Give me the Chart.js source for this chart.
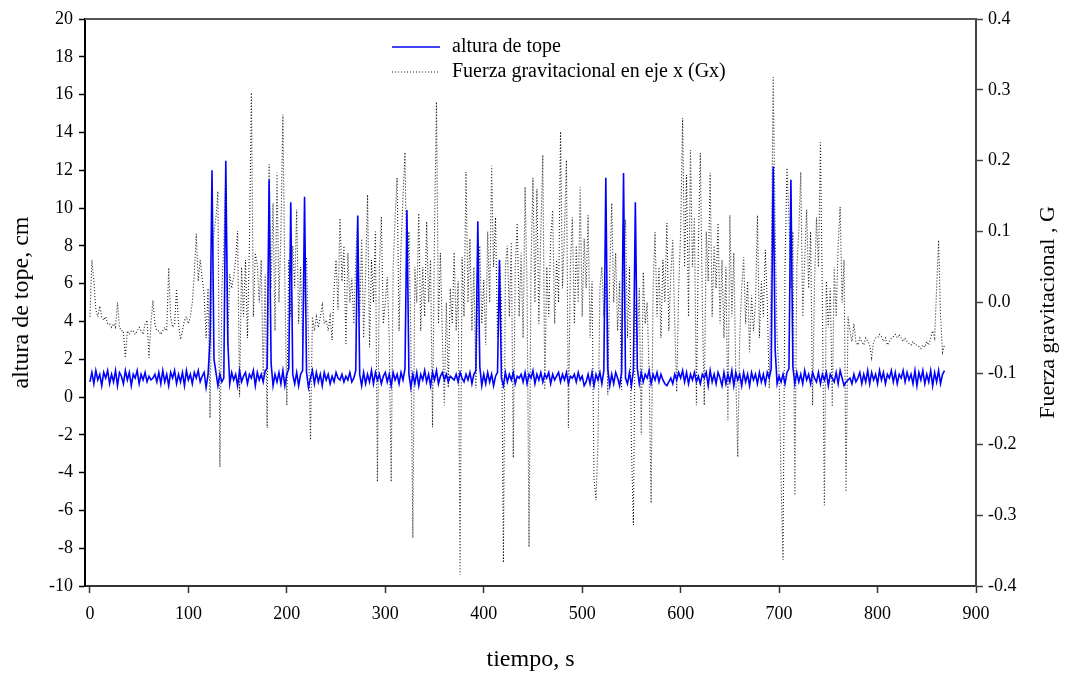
<!DOCTYPE html>
<html lang="es">
<head>
<meta charset="UTF-8">
<title>altura de tope y fuerza gravitacional</title>
<script src="https://cdn.jsdelivr.net/npm/chart.js"></script>
<style>
  html, body { margin: 0; padding: 0; background: #fff; }
  #wrap { width: 1067px; height: 673px; }
</style>
</head>
<body>
<div id="wrap"><canvas id="grafico"></canvas></div>
<script>
// una muestra cada 2 s, de 0 a 868 s
const paso = 2;

// altura de tope, cm
const alturaTope = [
  0.8, 1.3, 0.7, 1.4, 0.9, 1.2, 0.6, 1.3, 1.0, 1.4,
  0.7, 1.2, 0.8, 1.4, 0.6, 1.3, 1.1, 0.7, 1.4, 0.9,
  1.3, 0.6, 1.2, 1.0, 1.4, 0.7, 1.2, 0.9, 1.3, 0.8,
  1.1, 0.9, 1.0, 1.2, 0.8, 1.3, 0.7, 1.4, 0.8, 1.2,
  0.6, 1.3, 1.0, 1.4, 0.7, 1.2, 0.8, 1.3, 0.6, 1.4,
  0.9, 1.2, 0.7, 1.3, 1.0, 1.4, 0.8, 1.1, 1.3, 0.5,
  1.2, 3.0, 12.0, 2.0, 1.3, 0.6, 1.2, 0.8, 1.0, 12.5,
  3.0, 0.7, 1.3, 0.9, 1.2, 0.6, 1.4, 0.8, 1.1, 1.3,
  0.7, 1.2, 1.0, 1.4, 0.6, 1.3, 0.9, 1.2, 0.8, 1.4,
  1.5, 11.5, 1.8, 0.6, 1.2, 0.8, 1.3, 0.7, 1.4, 0.6,
  1.2, 1.5, 10.3, 1.2, 0.7, 1.3, 0.6, 1.2, 1.4, 10.6,
  1.3, 0.5, 1.0, 1.4, 0.7, 1.3, 0.8, 1.2, 0.6, 1.3,
  0.9, 1.2, 0.7, 1.1, 0.8, 1.3, 1.0, 0.9, 1.2, 0.8,
  1.1, 0.9, 1.3, 0.8, 1.0, 1.4, 9.6, 1.2, 0.6, 1.3,
  0.7, 1.2, 0.8, 1.4, 0.7, 1.3, 0.9, 1.2, 0.7, 1.1,
  1.3, 0.8, 1.2, 0.6, 1.3, 0.9, 1.2, 0.7, 1.3, 0.9,
  1.5, 9.9, 1.2, 0.5, 1.2, 0.7, 1.3, 0.6, 1.2, 0.9,
  1.4, 0.8, 1.2, 0.6, 1.3, 0.9, 1.4, 0.7, 1.1, 1.3,
  0.9, 1.2, 0.8, 1.1, 1.0, 0.9, 1.2, 0.8, 1.3, 1.0,
  0.8, 1.2, 0.9, 1.3, 0.7, 1.2, 1.4, 9.3, 1.6, 0.6,
  1.2, 0.7, 1.3, 0.8, 1.2, 0.6, 1.1, 1.3, 7.25, 1.0,
  0.6, 1.3, 0.8, 1.2, 0.9, 1.3, 0.7, 1.1, 1.0, 1.2,
  0.8, 1.3, 0.7, 1.2, 1.0, 1.4, 0.7, 1.2, 0.9, 1.3,
  0.8, 1.2, 1.0, 1.3, 0.7, 1.2, 0.9, 1.1, 1.3, 0.8,
  1.2, 0.9, 1.3, 0.7, 1.1, 1.0, 1.2, 0.8, 1.3, 0.9,
  1.1, 0.6, 0.8, 1.2, 0.7, 1.3, 0.6, 1.2, 0.9, 1.3,
  0.7, 1.4, 11.6, 1.5, 0.6, 1.2, 0.7, 1.3, 1.0, 0.6,
  1.3, 11.85, 1.0, 0.7, 1.3, 0.6, 1.4, 10.3, 1.5, 0.7,
  1.3, 0.8, 1.2, 1.0, 1.4, 0.7, 1.2, 0.9, 1.3, 0.8,
  1.2, 0.9, 0.7, 0.6, 0.8, 1.0, 0.7, 1.2, 0.9, 1.3,
  1.0, 1.4, 0.8, 1.3, 0.7, 1.2, 0.9, 1.3, 0.8, 1.1,
  0.7, 1.2, 1.0, 1.3, 0.6, 1.4, 0.8, 1.2, 0.7, 1.3,
  1.0, 0.6, 1.3, 0.7, 1.2, 0.8, 1.4, 0.6, 1.3, 0.9,
  1.2, 0.6, 1.3, 0.8, 1.2, 0.6, 1.3, 0.9, 1.2, 0.7,
  1.3, 0.8, 1.2, 0.7, 1.3, 1.0, 1.5, 12.2, 2.5, 0.7,
  1.1, 0.8, 1.2, 0.7, 1.3, 1.5, 11.5, 1.6, 0.7, 1.3,
  0.8, 1.2, 0.7, 1.4, 0.9, 1.2, 0.7, 1.3, 1.0, 0.8,
  1.3, 0.7, 1.2, 0.9, 1.3, 0.6, 1.2, 1.0, 0.8, 1.3,
  0.7, 1.4, 1.0, 0.6, 0.8, 0.9, 1.0, 0.7, 1.2, 0.8,
  1.0, 1.3, 0.7, 1.2, 0.8, 1.4, 0.7, 1.3, 0.9, 1.2,
  0.7, 1.4, 0.9, 1.3, 0.7, 1.2, 1.0, 1.4, 0.8, 1.3,
  0.7, 1.2, 1.0, 1.4, 0.8, 1.3, 0.9, 1.2, 0.7, 1.4,
  0.6, 1.3, 0.9, 1.4, 0.7, 1.2, 0.8, 1.4, 0.6, 1.3,
  0.8, 1.4, 0.7, 1.2, 1.4
];

// fuerza gravitacional en eje x, G
const fuerzaGx = [
  -0.02, 0.06, 0.03, -0.01, -0.02, -0.005, -0.02, -0.025, -0.02, -0.03,
  -0.03, -0.035, -0.03, -0.035, 0.0, -0.035, -0.04, -0.04, -0.078, -0.04,
  -0.045, -0.04, -0.04, -0.045, -0.04, -0.035, -0.04, -0.045, -0.03, -0.025,
  -0.078, -0.03, 0.003, -0.03, -0.04, -0.04, -0.045, -0.04, -0.035, -0.04,
  0.049, -0.02, -0.035, -0.03, 0.019, -0.03, -0.052, -0.04, -0.025, -0.02,
  -0.03, -0.02, 0.0, 0.04, 0.097, 0.03, 0.06, 0.035, 0.01, -0.05,
  0.02, -0.163, 0.05, 0.1, 0.12, 0.157, -0.232, 0.02, 0.08, 0.184,
  -0.06, 0.04, 0.02, 0.036, 0.06, 0.101, -0.133, 0.05, -0.02, 0.06,
  -0.05, 0.08, 0.296, -0.02, 0.07, 0.053, 0.0, 0.06, -0.11, 0.04,
  -0.177, 0.195, 0.02, 0.14, -0.04, 0.183, 0.0, 0.1, 0.265, 0.03,
  -0.145, 0.06, -0.02, 0.08, 0.02, 0.131, -0.03, 0.05, -0.06, 0.03,
  0.064, -0.05, -0.194, -0.02, -0.04, -0.02, -0.035, -0.02, -0.004, -0.03,
  -0.025, -0.04, -0.02, -0.053, 0.02, 0.06, -0.01, 0.119, 0.03, 0.08,
  -0.06, 0.07, 0.0, 0.035, -0.03, 0.06, 0.121, -0.02, 0.09, -0.05,
  0.04, 0.152, -0.063, 0.06, 0.0, 0.1, -0.253, 0.05, 0.121, -0.03,
  0.0, 0.036, -0.05, -0.253, 0.05, 0.12, 0.176, -0.04, 0.08, 0.15,
  0.212, 0.02, 0.1, -0.05, -0.332, 0.05, 0.0, 0.126, -0.04, 0.05,
  -0.02, 0.114, 0.0, 0.06, -0.176, 0.1, 0.283, -0.03, 0.07, -0.05,
  -0.145, 0.0, -0.12, 0.02, -0.03, 0.071, -0.04, 0.03, -0.384, 0.064,
  -0.02, 0.184, 0.0, 0.09, -0.04, 0.05, -0.121, 0.02, 0.08, -0.03,
  0.032, -0.06, 0.1, 0.0, 0.193, 0.05, 0.12, -0.05, 0.06, 0.0,
  -0.367, 0.05, 0.08, -0.02, 0.085, -0.219, 0.05, 0.112, -0.02, 0.07,
  -0.05, 0.163, 0.02, -0.345, 0.05, 0.176, 0.0, 0.16, -0.03, 0.1,
  0.208, -0.123, 0.05, -0.02, 0.09, 0.13, -0.03, 0.06, 0.0, 0.241,
  0.02, 0.1, 0.201, -0.177, 0.05, 0.12, -0.03, 0.08, 0.0, 0.163,
  -0.02, 0.09, 0.02, 0.123, -0.05, 0.03, -0.25, -0.279, -0.2, 0.02,
  0.05, -0.02, 0.03, -0.13, 0.04, 0.14, 0.0, 0.07, -0.04, 0.03,
  -0.123, 0.06, 0.117, -0.05, 0.05, -0.2, -0.314, 0.0, -0.06, 0.02,
  -0.187, 0.043, -0.03, 0.0, -0.1, -0.283, 0.02, 0.099, -0.02, 0.05,
  -0.05, 0.06, 0.0, 0.112, -0.04, 0.04, 0.088, -0.03, -0.126, 0.02,
  0.1, 0.26, 0.05, 0.18, -0.02, 0.215, 0.05, 0.12, -0.145, 0.08,
  0.211, 0.0, -0.145, 0.1, 0.03, 0.183, -0.02, 0.08, 0.02, 0.112,
  -0.03, 0.06, -0.05, 0.05, -0.166, 0.123, -0.02, 0.07, -0.1, -0.218,
  -0.05, 0.02, 0.064, -0.03, 0.03, -0.07, 0.01, -0.04, 0.0, 0.123,
  -0.05, 0.03, -0.02, 0.074, 0.0, -0.121, 0.05, 0.318, 0.1, -0.05,
  -0.1, -0.25, -0.363, 0.05, 0.19, 0.12, 0.02, 0.1, -0.272, 0.05,
  0.1, 0.184, -0.02, 0.06, 0.131, 0.02, 0.1, -0.145, 0.03, 0.12,
  0.05, 0.226, 0.0, -0.286, 0.03, -0.035, 0.02, -0.147, 0.05, -0.02,
  0.08, 0.135, 0.0, 0.06, -0.267, -0.02, -0.04, -0.055, -0.03, -0.055,
  -0.06, -0.05, -0.055, -0.06, -0.05, -0.055, -0.06, -0.078, -0.055, -0.05,
  -0.05, -0.045, -0.048, -0.055, -0.05, -0.06, -0.055, -0.05, -0.048, -0.045,
  -0.05, -0.045, -0.05, -0.055, -0.05, -0.055, -0.058, -0.06, -0.055, -0.06,
  -0.06, -0.062, -0.065, -0.06, -0.063, -0.055, -0.06, -0.05, -0.04, -0.05,
  0.02, 0.088, -0.02, -0.07, -0.06
];

const ticksTiempo = [0, 100, 200, 300, 400, 500, 600, 700, 800, 900];
const ticksAltura = [-10, -8, -6, -4, -2, 0, 2, 4, 6, 8, 10, 12, 14, 16, 18, 20];
const ticksFuerza = [-0.4, -0.3, -0.2, -0.1, 0.0, 0.1, 0.2, 0.3, 0.4];

const tituloX = 'tiempo, s';
const tituloIzq = 'altura de tope, cm';
const tituloDer = 'Fuerza gravitacional , G';

const serif = '"Liberation Serif", "Times New Roman", serif';

function aPuntos(valores) {
  return valores.map((v, i) => ({ x: i * paso, y: v }));
}

function fijarTicks(lista) {
  return function (scale) {
    scale.ticks = lista.map(v => ({ value: v }));
  };
}

// marco superior, titulo derecho y leyenda
const extras = {
  id: 'extras',
  afterDraw(chart) {
    const ctx = chart.ctx;
    const a = chart.chartArea;
    ctx.save();
    ctx.strokeStyle = '#555';
    ctx.lineWidth = 2;
    ctx.beginPath();
    ctx.moveTo(a.left, a.top);
    ctx.lineTo(a.right, a.top);
    ctx.stroke();

    ctx.fillStyle = '#000';
    ctx.font = '22px ' + serif;
    ctx.textAlign = 'center';
    ctx.textBaseline = 'middle';
    ctx.save();
    ctx.translate(a.right + 72, (a.top + a.bottom) / 2 + 10);
    ctx.rotate(-Math.PI / 2);
    ctx.fillText(tituloDer, 0, 0);
    ctx.restore();

    // leyenda
    ctx.font = '20px ' + serif;
    ctx.textAlign = 'left';
    chart.data.datasets.forEach((ds, i) => {
      const y = 47 + i * 25;
      ctx.save();
      ctx.strokeStyle = ds.borderColor;
      ctx.lineWidth = ds.borderWidth;
      ctx.setLineDash(ds.borderDash || []);
      ctx.beginPath();
      ctx.moveTo(392, y);
      ctx.lineTo(440, y);
      ctx.stroke();
      ctx.restore();
      ctx.fillText(ds.label, 452, y);
    });
    ctx.restore();
  }
};

new Chart(document.getElementById('grafico'), {
  type: 'line',
  data: {
    datasets: [
      {
        label: 'altura de tope',
        data: aPuntos(alturaTope),
        yAxisID: 'y',
        borderColor: '#0000ff',
        borderWidth: 1.6,
        pointRadius: 0,
        tension: 0
      },
      {
        label: 'Fuerza gravitacional en eje x (Gx)',
        data: aPuntos(fuerzaGx),
        yAxisID: 'y1',
        borderColor: '#1e1e1e',
        borderWidth: 1.1,
        borderDash: [1, 2],
        pointRadius: 0,
        tension: 0
      }
    ]
  },
  options: {
    responsive: true,
    maintainAspectRatio: false,
    animation: false,
    layout: { padding: { top: 19, left: 0, right: 0, bottom: 0 } },
    plugins: {
      legend: { display: false },
      tooltip: { enabled: false }
    },
    scales: {
      x: {
        type: 'linear',
        min: -5,
        max: 900,
        afterBuildTicks: fijarTicks(ticksTiempo),
        afterFit: s => { s.height = 87; },
        grid: { drawOnChartArea: false, tickLength: 7, tickColor: '#333', tickWidth: 1.5 },
        border: { color: '#333', width: 2 },
        ticks: { color: '#000', font: { family: serif, size: 18 }, padding: 10, maxRotation: 0 },
        title: { display: true, text: tituloX, color: '#000', font: { family: serif, size: 24, lineHeight: 1 }, padding: { top: 0, bottom: 1 } }
      },
      y: {
        position: 'left',
        min: -10,
        max: 20,
        afterBuildTicks: fijarTicks(ticksAltura),
        afterFit: s => { s.width = 85; },
        grid: { drawOnChartArea: false, tickLength: 6, tickColor: '#000', tickWidth: 1.5 },
        border: { color: '#000', width: 2 },
        ticks: { color: '#000', font: { family: serif, size: 18 }, padding: 6 },
        title: { display: true, text: tituloIzq, color: '#000', font: { family: serif, size: 24, lineHeight: 1 }, padding: { top: 10, bottom: 0 } }
      },
      y1: {
        position: 'right',
        min: -0.4,
        max: 0.4,
        afterBuildTicks: fijarTicks(ticksFuerza),
        afterFit: s => { s.width = 91; },
        grid: { drawOnChartArea: false, tickLength: 7, tickColor: '#444', tickWidth: 1.5 },
        border: { color: '#444', width: 2 },
        ticks: { color: '#000', font: { family: serif, size: 18 }, padding: 5, callback: v => v.toFixed(1) }
      }
    }
  },
  plugins: [extras]
});
</script>
</body>
</html>
